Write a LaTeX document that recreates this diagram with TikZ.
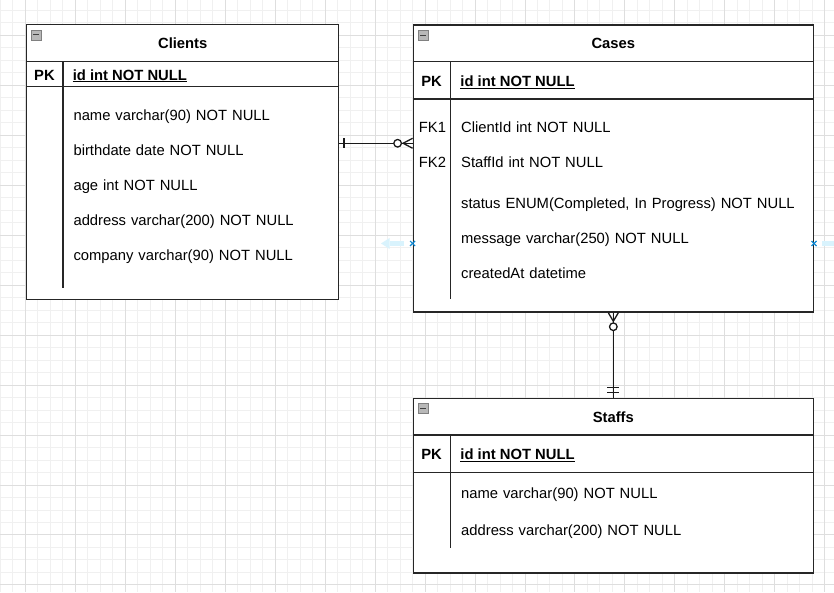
\documentclass[tikz,border=0pt]{standalone}
\usepackage{fontspec}
\setmainfont{Liberation Sans}
\usetikzlibrary{positioning,arrows.meta}

\begin{document}
\begin{tikzpicture}[x=1pt,y=-1pt,node distance=35pt,
    font=\fontsize{14.8}{18}\selectfont,
    minor line/.style={draw=black!6,line width=0.8pt},
    major line/.style={draw=black!13,line width=0.8pt},
    table/.style={draw=black!85,line width=1.4pt,fill=white,inner sep=0pt},
    rule/.style={draw=black!85,line width=1.4pt},
    title/.style={font=\fontsize{14.8}{18}\selectfont\bfseries,inner sep=0pt,
                  text height=10.6pt,text depth=0pt},
    key/.style={inner sep=0pt,text height=10.6pt,text depth=0pt},
    pk/.style={key,font=\fontsize{14.8}{18}\selectfont\bfseries},
    field/.style={key,text width=345pt,align=left},
    icon/.style={draw=black!50,fill=black!28,line width=0.8pt},
    rel/.style={draw=black!90,line width=1.3pt},
    hint/.style={draw=cyan!70!blue,line width=1.2pt}]

  % background grid
  \fill[white] (0,0) rectangle (834,592);
  \foreach \x in {0,12.5,...,834} \draw[minor line] (\x,0) -- (\x,592);
  \foreach \y in {10,22.5,...,592} \draw[minor line] (0,\y) -- (834,\y);
  \foreach \x in {25,75,...,834} \draw[major line] (\x,0) -- (\x,592);
  \foreach \y in {35,85,...,592} \draw[major line] (0,\y) -- (834,\y);
  \useasboundingbox (0,0) rectangle (834,592);

  % tables
  \node[table,minimum width=312.4pt,minimum height=275pt] (clients) at (182.5,161.8) {};
  \node[table,minimum width=400.4pt,minimum height=287.3pt] (cases) at (613.5,168.3) {};
  \node[table,minimum width=400.4pt,minimum height=174.7pt] (staffs) at (613.5,485.7) {};

  \foreach \t/\n/\pk/\d/\c in {clients/Clients/62.7/12.3/37,
                               cases/Cases/74.6/13.3/38,
                               staffs/Staffs/74.7/25.3/38} {
    \pgfmathsetmacro{\r}{(37.5+\pk)/2+0.7}
    \draw[rule] ([yshift=-37.5pt]\t.north west) -- ([yshift=-37.5pt]\t.north east);
    \draw[rule] ([yshift=-\pk pt]\t.north west) -- ([yshift=-\pk pt]\t.north east);
    \draw[rule] ([xshift=\c pt,yshift=-37.5pt]\t.north west)
             -- ([xshift=\c pt,yshift=\d pt]\t.south west);
    \draw[icon] ([xshift=5.5pt,yshift=-6pt]\t.north west) rectangle +(10,10);
    \draw[black!75,line width=1pt] ([xshift=7.5pt,yshift=-11pt]\t.north west) -- +(6,0);
    \node[title] (\t-title) at ([yshift=-19.2pt]\t.north) {\n};
    \node[pk] (\t-pk) at ([xshift=\c pt/2,yshift=-\r pt]\t.north west) {PK};
    \node[pk,anchor=west] (\t-id) at ([xshift=\c pt+9.7pt,yshift=-\r pt]\t.north west)
      {id int NOT NULL};
    \draw[line width=1.1pt] ([yshift=-1.6pt]\t-id.south west) -- ([yshift=-1.6pt]\t-id.south east);
  }

  % Clients fields
  \node[field,anchor=west] (cl1) at (73,115) {name varchar(90) NOT NULL};
  \node[field,below of=cl1] (cl2) {birthdate date NOT NULL};
  \node[field,below of=cl2] (cl3) {age int NOT NULL};
  \node[field,below of=cl3] (cl4) {address varchar(200) NOT NULL};
  \node[field,below of=cl4] (cl5) {company varchar(90) NOT NULL};

  % Cases fields
  \node[key] (fk1) at (432.5,126.7) {FK1};
  \node[key] (fk2) at (432.5,161.7) {FK2};
  \node[field,anchor=west] (cs1) at (461,126.7) {ClientId int NOT NULL};
  \node[field,below of=cs1] (cs2) {StaffId int NOT NULL};
  \node[field,anchor=west] (cs3) at (461,203) {status ENUM(Completed, In Progress) NOT NULL};
  \node[field,below of=cs3,node distance=35.5pt] (cs4) {message varchar(250) NOT NULL};
  \node[field,below of=cs4] (cs5) {createdAt datetime};

  % Staffs fields
  \node[field,anchor=west] (st1) at (461,493.3) {name varchar(90) NOT NULL};
  \node[field,below of=st1,node distance=36.7pt] (st2) {address varchar(200) NOT NULL};

  % Clients -- Cases
  \coordinate (link1) at (376,143);
  \coordinate (one1) at (clients.east |- link1);
  \coordinate (many1) at (cases.west |- link1);
  \draw[rel] (one1) -- (many1);
  \draw[rel] ([xshift=4.6pt,yshift=4.8pt]one1) -- ([xshift=4.6pt,yshift=-4.8pt]one1);
  \draw[rel] ([yshift=5pt]many1) -- ([xshift=-9.5pt]many1) -- ([yshift=-5pt]many1);
  \draw[rel,fill=white] ([xshift=-15pt]many1) circle (3.8pt);

  % Cases -- Staffs
  \draw[rel] (cases.south) -- (staffs.north);
  \draw[rel] ([xshift=-5pt]cases.south) -- ([yshift=-8.5pt]cases.south) -- ([xshift=5pt]cases.south);
  \draw[rel,fill=white] ([yshift=-14pt]cases.south) circle (3.8pt);
  \draw[rel] ([xshift=-6pt,yshift=10pt]staffs.north) -- ([xshift=6pt,yshift=10pt]staffs.north);
  \draw[rel] ([xshift=-6pt,yshift=5pt]staffs.north) -- ([xshift=6pt,yshift=5pt]staffs.north);

  % hover marks
  \coordinate (mark1) at (cases.west |- 0,243.3);
  \coordinate (mark2) at (cases.east |- 0,243.3);
  \fill[cyan!15] ([xshift=-9pt,yshift=-2.5pt]mark1) rectangle ([xshift=-23pt,yshift=2.5pt]mark1);
  \fill[cyan!15] ([xshift=-23pt,yshift=-5.5pt]mark1) -- ([xshift=-31.6pt]mark1)
    -- ([xshift=-23pt,yshift=5.5pt]mark1) -- cycle;
  \fill[cyan!15] ([xshift=8pt,yshift=-2.4pt]mark2) rectangle ([xshift=21pt,yshift=2.4pt]mark2);
  \foreach \m in {mark1,mark2} {
    \draw[hint] ([xshift=-2.5pt,yshift=-2.5pt]\m) -- ([xshift=2.5pt,yshift=2.5pt]\m);
    \draw[hint] ([xshift=-2.5pt,yshift=2.5pt]\m) -- ([xshift=2.5pt,yshift=-2.5pt]\m);
  }
\end{tikzpicture}
\end{document}
